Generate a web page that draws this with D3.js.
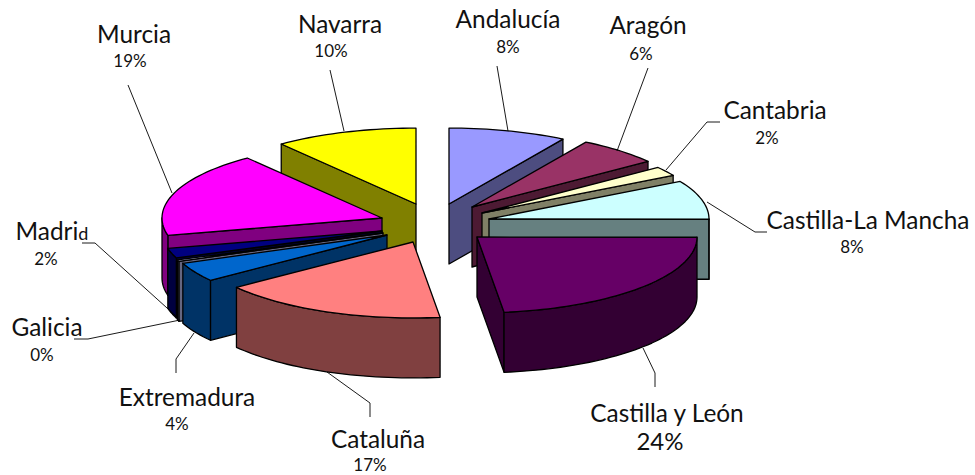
<!DOCTYPE html>
<html>
<head>
<meta charset="utf-8">
<script src="https://cdn.jsdelivr.net/npm/d3@7"></script>
<style>
 html, body { margin: 0; padding: 0; background: #fff; }
 text { font-family: Lato, "Open Sans", sans-serif; fill: #111; text-anchor: middle; }
</style>
</head>
<body>
<script>
// *** chart data, clockwise from 12 o'clock
var regions = ["Andalucía", "Aragón", "Cantabria", "Castilla-La Mancha", "Castilla y León", "Cataluña", "Extremadura", "Galicia", "Madrid", "Murcia", "Navarra"];
var shares = [8.67, 6.1, 2, 8.3, 23, 16.8, 4.1, 0.3, 2.1, 18.2, 10.5];
var shareLabels = ["8%", "6%", "2%", "8%", "24%", "17%", "4%", "0%", "2%", "19%", "10%"];
var topColors = ["#9999FF", "#993366", "#FFFFCC", "#CCFFFF", "#660066", "#FF8080", "#0066CC", "#CCCCFF", "#000080", "#FF00FF", "#FFFF00"];

// *** layout: where each exploded slice has its point, and the draw order (back to front)
var apexX = [449, 472, 482, 489, 477, 413, 387, 383, 382, 382, 416];
var apexY = [204, 207, 213, 219, 237, 242, 235, 233, 231, 218, 204];
var drawOrder = [0, 10, 1, 2, 3, 4, 9, 8, 7, 6, 5];

// *** label positions: name x, name y, percent x, percent y
var labelPos = [
 [508, 28, 508, 53], [648, 34, 641, 60], [775, 119, 767, 144], [868, 229, 852, 253],
 [667, 422, 660, 450], [378, 448, 370, 471], [187, 406, 177, 430], [47, 336, 42, 361],
 [52, 240, 46, 265], [134, 43, 130, 67], [340, 33, 331, 57]
];
var leaders = [
 [[497, 66], [508, 131]],
 [[648, 68], [617, 151]],
 [[720, 122], [707, 122], [666, 170]],
 [[707, 202], [755, 232], [767, 232]],
 [[643, 348], [655, 373], [655, 387]],
 [[327, 372], [370, 403], [370, 417]],
 [[194, 333], [176, 359], [176, 373]],
 [[74, 339], [88, 339], [180, 320]],
 [[82, 243], [95, 243], [177, 317]],
 [[128, 85], [172, 193]],
 [[330, 70], [344, 131]]
];

var width = 975;
var height = 475;
var radius = 220;
var tilt = 0.345;
var depth = 60;

var svg = d3.select("body").append("svg")
 .attr("width", width)
 .attr("height", height)
 .style("display", "block");

var slices = d3.pie().sort(null).value(d => d)(shares);
var line = d3.line();

// *** point on the tilted circle for slice i, dropped by dz
function rim(i, a, dz) {
 return [apexX[i] + radius * Math.sin(a), apexY[i] - radius * tilt * Math.cos(a) + dz];
}

function arcPoints(i, a0, a1, dz) {
 var n = Math.max(2, Math.ceil((a1 - a0) / 0.03));
 return d3.range(n + 1).map(k => rim(i, a0 + (a1 - a0) * k / n, dz));
}

function wallColor(c) {
 var rgb = d3.rgb(c);
 return d3.rgb(rgb.r / 2, rgb.g / 2, rgb.b / 2).formatHex();
}

function drawFace(points, fill) {
 svg.append("path")
  .attr("d", line(points) + "Z")
  .attr("fill", fill)
  .attr("stroke", "#000")
  .attr("stroke-width", 1.3)
  .attr("stroke-linejoin", "round");
}

drawOrder.forEach(function(i) {
 var a0 = slices[i].startAngle;
 var a1 = slices[i].endAngle;
 var wall = wallColor(topColors[i]);
 var apex = [apexX[i], apexY[i]];
 var apexLow = [apexX[i], apexY[i] + depth];

 // *** cut faces: the start edge shows on the left half, the end edge on the right half
 if (a0 > Math.PI) {
  drawFace([apex, rim(i, a0, 0), rim(i, a0, depth), apexLow], wall);
 }
 if (a1 < Math.PI) {
  drawFace([apex, rim(i, a1, 0), rim(i, a1, depth), apexLow], wall);
 }

 // *** outer wall, only the part facing the viewer
 var from = Math.max(a0, Math.PI / 2);
 var to = Math.min(a1, Math.PI * 1.5);
 if (to > from) {
  drawFace(arcPoints(i, from, to, 0).concat(arcPoints(i, from, to, depth).reverse()), wall);
 }

 drawFace([apex].concat(arcPoints(i, a0, a1, 0)), topColors[i]);
});

// *** leader lines
leaders.forEach(function(pts) {
 svg.append("path")
  .attr("d", line(pts))
  .attr("fill", "none")
  .attr("stroke", "#000")
  .attr("stroke-width", 0.9);
});

// *** labels
regions.forEach(function(name, i) {
 var pos = labelPos[i];
 var nameText = svg.append("text")
  .attr("x", pos[0])
  .attr("y", pos[1])
  .style("font-size", "24.4px");
 if (name === "Madrid") {
  // the last letter is smaller in the original
  nameText.append("tspan").text("Madri");
  nameText.append("tspan").style("font-size", "18px").text("d");
 } else {
  nameText.text(name);
 }
 svg.append("text")
  .attr("x", pos[2])
  .attr("y", pos[3])
  .style("font-size", name === "Castilla y León" ? "24px" : "17px")
  .text(shareLabels[i]);
});
</script>
</body>
</html>
